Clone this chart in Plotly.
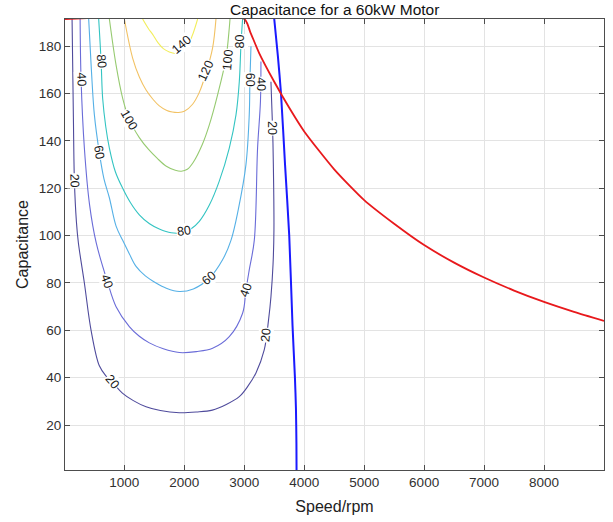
import plotly.graph_objects as go

# ========= DATA =========
TITLE = "Capacitance for a 60kW Motor"
X_TITLE = "Speed/rpm"
Y_TITLE = "Capacitance"

X_TICKS = [1000, 2000, 3000, 4000, 5000, 6000, 7000, 8000]
Y_TICKS = [20, 40, 60, 80, 100, 120, 140, 160, 180]
X_RANGE = [10, 9000]
Y_RANGE = [1, 191.5]

LEVELS = [20, 40, 60, 80, 100, 120, 140]
LEVEL_COLORS = ["#4f4b9c", "#6a6cd8", "#55b0e6", "#33c4c2", "#96ca70", "#f2c264", "#f2ee5c"]

# contour lines: speed (x) and capacitance (y)
C20_X = [128, 150, 167, 200, 233, 333, 445, 583, 700, 800, 967, 1150, 1362, 1600, 1917, 2200, 2467, 2700, 2917,
         3050, 3195, 3333, 3405, 3445, 3480, 3495, 3485, 3472, 3445]
C20_Y = [191.5, 150, 123, 106, 97, 80, 60, 45, 40.5, 38, 33.5, 30.3, 27.7, 26.1, 25.2, 25.5, 26.3, 28.7, 32,
         36, 42, 51.7, 64.4, 74.2, 88, 102.5, 130, 145.6, 165]

C40_X = [262, 278, 333, 420, 530, 717, 862, 1083, 1250, 1417, 1650, 1917, 2200, 2472, 2750, 2972, 3028, 3083,
         3167, 3222, 3270, 3278]
C40_Y = [191.5, 166, 137, 113, 97, 80.6, 70, 61.6, 57.5, 54.7, 52.2, 50.6, 51, 52.4, 57.3, 67.2, 77, 85.5,
         98, 137, 156.7, 173.6]

C60_X = [405, 450, 500, 583, 660, 750, 862, 972, 1080, 1195, 1350, 1528, 1700, 1917, 2150, 2417, 2638, 2778,
         2900, 3028, 3083, 3095, 3112]
C60_Y = [191.5, 170, 151, 135, 124, 116, 104, 98, 92.5, 87, 83, 80, 77.8, 76.4, 77.5, 82, 89.8, 98,
         111, 130, 151, 166, 180]

C80_X = [572, 612, 638, 690, 750, 850, 972, 1100, 1250, 1420, 1583, 1780, 1972, 2120, 2250, 2420, 2583, 2750,
         2862, 2917, 2945, 2972]
C80_Y = [191.5, 173.6, 158, 146, 137, 127, 120, 114, 108.8, 105, 102.8, 101.2, 101.3, 103, 106, 113, 123, 137,
         151, 165, 180.7, 191.5]

C100_X = [750, 862, 972, 1083, 1250, 1400, 1550, 1700, 1850, 1950, 2050, 2150, 2300, 2417, 2555, 2695, 2750, 2762]
C100_Y = [191.5, 172, 158, 149, 141.4, 136.5, 132.6, 129.3, 127.6, 127.2, 128, 131, 138.5, 146.8, 159.5, 175, 187.7, 191.5]

C120_X = [1000, 1138, 1250, 1362, 1480, 1583, 1700, 1800, 1900, 2000, 2138, 2250, 2362, 2472, 2528]
C120_Y = [191.5, 175, 167, 161.5, 157.5, 154.8, 153, 152.2, 152, 152.5, 155.5, 160.5, 168.7, 179.3, 191.5]

C140_X = [1305, 1400, 1472, 1560, 1650, 1750, 1850, 1950, 2050, 2133, 2222]
C140_Y = [191.5, 187.5, 185, 181.5, 179, 177.6, 177, 177.6, 180, 184.5, 191.5]

# contour labels: level, position, text angle
LABEL_LEVEL = [20, 20, 20, 20, 40, 40, 40, 40, 60, 60, 60, 80, 80, 80, 100, 100, 120, 140]
LABEL_X = [167, 800, 3362, 3472, 278, 717, 3028, 3278, 583, 2417, 3090, 612, 2000, 2945, 1083, 2722, 2362, 1945]
LABEL_Y = [123, 38, 58, 145.6, 166, 80.6, 77, 164, 135, 82, 166, 173.6, 102, 182, 149, 174.3, 169.4, 180.7]
LABEL_ANGLE = [88, 50, -85, 90, 88, 70, -70, 88, 80, -40, 90, 85, -8, -90, 60, -85, -65, -40]

# red limit curve
RED_X = [10, 3000, 3100, 3250, 3500, 3750, 4000, 4500, 5000, 5500, 6000, 6500, 7000, 7500, 8000, 8500, 9000]
RED_Y = [191.5, 191.5, 186, 177, 165, 154, 144, 128, 115, 105, 96, 88.6, 82.3, 76.8, 72, 67.8, 64]

# blue limit curve
BLUE_X = [3500, 3560, 3612, 3680, 3750, 3805, 3845, 3862, 3870, 3872]
BLUE_Y = [191.5, 176, 160.3, 130, 100, 62, 40, 27, 12, 1]

CONTOURS = {
    20: (C20_X, C20_Y), 40: (C40_X, C40_Y), 60: (C60_X, C60_Y), 80: (C80_X, C80_Y),
    100: (C100_X, C100_Y), 120: (C120_X, C120_Y), 140: (C140_X, C140_Y),
}

FONT = "Liberation Sans, Arial, sans-serif"

fig = go.Figure()

# ========= CONTOURS =========
for lvl, col in zip(LEVELS, LEVEL_COLORS):
    cx, cy = CONTOURS[lvl]
    fig.add_trace(go.Scatter(
        x=cx, y=cy, mode="lines",
        line=dict(color=col, width=1.1, shape="spline", smoothing=1.0),
        hoverinfo="skip", showlegend=False
    ))

# ========= LIMIT CURVES =========
fig.add_trace(go.Scatter(
    x=BLUE_X, y=BLUE_Y, mode="lines",
    line=dict(color="#1a1aff", width=2, shape="spline", smoothing=0.6),
    showlegend=False, cliponaxis=False
))
fig.add_trace(go.Scatter(
    x=RED_X, y=RED_Y, mode="lines",
    line=dict(color="#e8191c", width=1.8, shape="spline", smoothing=0.6),
    showlegend=False, cliponaxis=False
))

# ========= CONTOUR LABELS =========
for lvl, lx, ly, ang in zip(LABEL_LEVEL, LABEL_X, LABEL_Y, LABEL_ANGLE):
    fig.add_annotation(
        x=lx, y=ly, xref="x", yref="y", text=str(lvl),
        showarrow=False, textangle=ang,
        font=dict(family=FONT, size=12.5, color="#1a1a1a"),
        bgcolor="white", borderpad=0
    )

axis_common = dict(
    showline=True, linecolor="#4d4d4d", linewidth=1, mirror="ticks",
    ticks="inside", ticklen=5, tickcolor="#4d4d4d",
    showgrid=True, gridcolor="#e3e3e3", gridwidth=1, zeroline=False,
    automargin=False,
    tickfont=dict(family=FONT, size=13.5, color="#303030"),
)

fig.update_layout(
    width=613, height=522,
    margin=dict(l=65, r=9, t=19, b=52),
    paper_bgcolor="white", plot_bgcolor="white",
    title=dict(text=TITLE, x=0.546, xanchor="center", y=0.981, yanchor="middle", automargin=False,
               font=dict(family=FONT, size=15.5, color="#111111")),
    xaxis=dict(range=X_RANGE, tickvals=X_TICKS, title=dict(text=X_TITLE, standoff=11,
               font=dict(family=FONT, size=16, color="#222222")), **axis_common),
    yaxis=dict(range=Y_RANGE, tickvals=Y_TICKS, title=dict(text=Y_TITLE, standoff=6,
               font=dict(family=FONT, size=16, color="#222222")), **axis_common),
)

# page body has a default margin; drop it so the figure sits at the window origin
fig.write_html("out.html", config={"displayModeBar": False},
               post_script="document.body.style.margin='0';")
